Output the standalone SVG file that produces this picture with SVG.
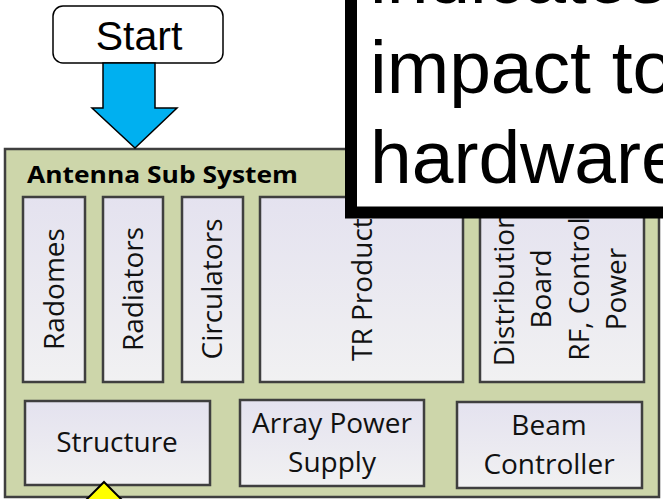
<svg xmlns="http://www.w3.org/2000/svg" width="663" height="499" viewBox="0 0 663 499">
  <defs>
    <linearGradient id="partFill" x1="0" y1="0" x2="0" y2="1">
      <stop offset="0" stop-color="#E4E2EF"/>
      <stop offset="1" stop-color="#F1F1F2"/>
    </linearGradient>
    <style>
      .part { fill: url(#partFill); stroke: #3F3F3F; stroke-width: 2.5; }
      .lbl { font-family: "Open Sans", "Noto Sans", sans-serif; font-size: 28px; fill: #111; text-anchor: middle; }
      .arial { font-family: "Liberation Sans", Arial, sans-serif; fill: #000; }
    </style>
  </defs>

  <!-- Start terminal -->
  <g id="start">
    <rect x="53" y="6" width="170" height="57" rx="10" fill="#fff" stroke="#000" stroke-width="1.5"/>
    <text class="arial" x="139" y="50" font-size="41" text-anchor="middle">Start</text>
  </g>

  <!-- Antenna sub system container -->
  <g id="antenna-sub-system">
    <rect x="5" y="149" width="654" height="348" fill="#CDD6AA" stroke="#3F3F3F" stroke-width="2.5"/>
    <text x="27" y="183" font-family="'Open Sans', 'Noto Sans', sans-serif" font-weight="bold" font-size="24" textLength="271" lengthAdjust="spacingAndGlyphs" fill="#000">Antenna Sub System</text>
  </g>

  <!-- Top row of parts (vertical labels) -->
  <g id="radomes">
    <rect class="part" x="23" y="197" width="62" height="185"/>
    <text class="lbl" transform="translate(54,289) rotate(-90)" y="10">Radomes</text>
  </g>
  <g id="radiators">
    <rect class="part" x="103" y="197" width="60" height="185"/>
    <text class="lbl" transform="translate(133,289) rotate(-90)" y="10">Radiators</text>
  </g>
  <g id="circulators">
    <rect class="part" x="182" y="197" width="61" height="185"/>
    <text class="lbl" transform="translate(212,289) rotate(-90)" y="10">Circulators</text>
  </g>
  <g id="tr-product">
    <rect class="part" x="260" y="197" width="203" height="185"/>
    <text class="lbl" transform="translate(362,361) rotate(-90)" y="10" style="text-anchor:start">TR Product</text>
  </g>
  <g id="distribution-board">
    <rect class="part" x="480" y="197" width="164" height="185"/>
    <g transform="translate(0,289) rotate(-90)">
      <text class="lbl" x="0" y="514">Distribution</text>
      <text class="lbl" x="0" y="551">Board</text>
      <text class="lbl" x="0" y="589">RF, Control</text>
      <text class="lbl" x="0" y="626">Power</text>
    </g>
  </g>

  <!-- Bottom row of parts -->
  <g id="structure">
    <rect class="part" x="25" y="401" width="185" height="84"/>
    <text class="lbl" x="117" y="452">Structure</text>
  </g>
  <g id="array-power-supply">
    <rect class="part" x="240" y="400" width="184" height="86"/>
    <text class="lbl" x="332" y="433">Array Power</text>
    <text class="lbl" x="332" y="472">Supply</text>
  </g>
  <g id="beam-controller">
    <rect class="part" x="457" y="402" width="185" height="86"/>
    <text class="lbl" x="549" y="435">Beam</text>
    <text class="lbl" x="549" y="474">Controller</text>
  </g>

  <!-- Connectors -->
  <g id="connectors" stroke="#000" stroke-width="1.5" stroke-linejoin="miter">
    <polygon points="103,63 155,63 155,108 177,108 135,148 92,108 103,108" fill="#00B0F0"/>
    <polygon points="104,482 124,502 84,502" fill="#FFFF00" stroke-width="2"/>
  </g>

  <!-- Callout box -->
  <g id="callout">
    <rect x="351" y="-60" width="400" height="272.5" fill="#fff" stroke="#000" stroke-width="12"/>
    <text class="arial" font-size="75">
      <tspan x="370" y="3">indicates</tspan>
      <tspan x="370" y="93">impact to</tspan>
      <tspan x="370" y="183">hardware</tspan>
    </text>
  </g>
</svg>
